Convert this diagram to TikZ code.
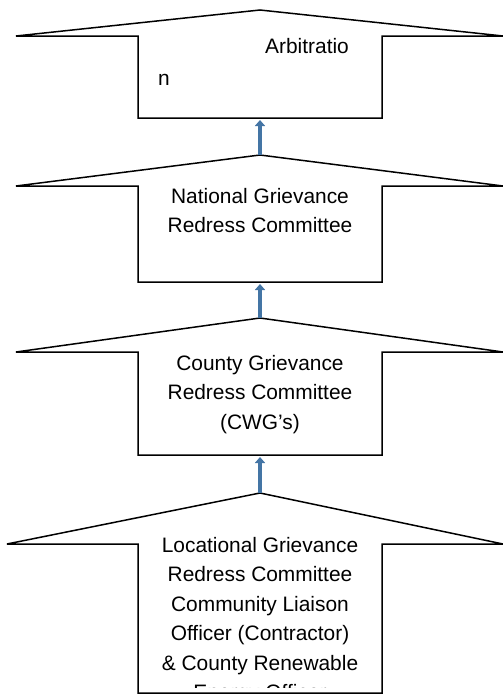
\documentclass[tikz,border=0pt]{standalone}
\usepackage{fontspec}
\setmainfont{Liberation Sans}
\usetikzlibrary{arrows.meta}
\definecolor{arrowblue}{RGB}{68,117,165}
\begin{document}
\begin{tikzpicture}[x=1pt, y=-1pt,
    upshape/.style={draw=black, line width=1.5pt, line join=miter},
    uparrow/.style={draw=arrowblue, line width=4pt, -{Triangle[width=10pt,length=6pt]}, shorten >=2pt},
    boxtext/.style={font=\fontsize{20.9}{29.5}\selectfont, align=center, inner sep=0pt, anchor=north}]
  \useasboundingbox (0,0) rectangle (503,696);  % page

  % arbitration
  \draw[upshape] (16,36) -- (260,10) -- (503,36) -- (382,36) -- (382,118) -- (138,118) -- (138,36) -- cycle;  % outline
  \coordinate (arb-bottom) at (260,118);  % arrow target
  \node[boxtext, anchor=base west] (arb-a) at (265,53) {Arbitratio};  % first part
  \node[boxtext, anchor=base west] (arb-b) at (158,85) {n};  % wrapped letter

  % national committee
  \draw[upshape] (16,186) -- (260,155) -- (503,186) -- (382,186) -- (382,282) -- (138,282) -- (138,186) -- cycle;  % outline
  \coordinate (nat-apex) at (260,155);  % arrow start
  \coordinate (nat-bottom) at (260,282);  % arrow target
  \node[boxtext] (nat) at (260,188) {National Grievance\\Redress Committee};  % label

  % county committee
  \draw[upshape] (16,352) -- (260,318) -- (503,352) -- (382,352) -- (382,455) -- (138,455) -- (138,352) -- cycle;  % outline
  \coordinate (cty-apex) at (260,318);  % arrow start
  \coordinate (cty-bottom) at (260,455);  % arrow target
  \node[boxtext] (cty) at (260,355) {County Grievance\\Redress Committee\\(CWG’s)};  % label

  % locational committee
  \draw[upshape] (7,544) -- (260,493) -- (503,544) -- (382,544) -- (382,693) -- (138,693) -- (138,544) -- cycle;  % outline
  \coordinate (loc-apex) at (260,493);  % arrow start
  \begin{scope}
    \clip (138,520) rectangle (382,687);  % text cut off at the bottom
    \node[boxtext] (loc) at (260,537) {Locational Grievance\\Redress Committee\\Community Liaison\\Officer (Contractor)\\\& County Renewable\\Energy Officer};  % label
  \end{scope}

  % arrows
  \draw[uparrow] (nat-apex) -- (arb-bottom);
  \draw[uparrow] (cty-apex) -- (nat-bottom);
  \draw[uparrow] (loc-apex) -- (cty-bottom);
\end{tikzpicture}
\end{document}
